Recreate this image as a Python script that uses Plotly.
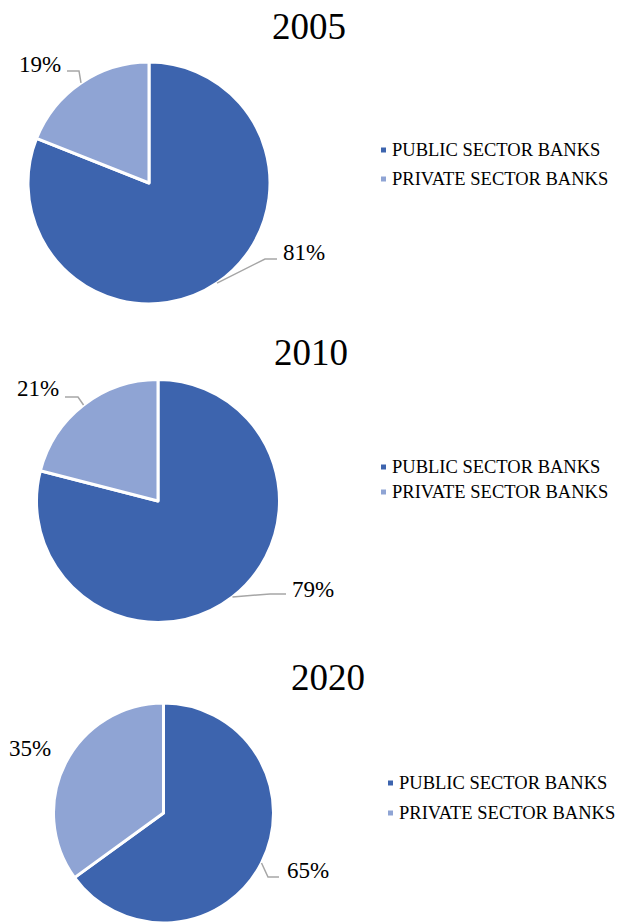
import math
import plotly.graph_objects as go

W, H = 622, 923

# Share of bank branches / business by sector (%)
years = ["2005", "2010", "2020"]
categories = ["PUBLIC SECTOR BANKS", "PRIVATE SECTOR BANKS"]
public_share = [81, 79, 65]
private_share = [19, 21, 35]

colors = ["#3D64AE", "#8FA4D4"]
serif = "Liberation Serif, Times New Roman, serif"

# Layout of each panel in pixels: pie centre / radius, title, legend, value labels
panels = [
    dict(cx=149, cy=183, r=121, title=(309, 27), leg=(381, 150, 179),
         labels=[dict(x=281, y=252, anchor="left", path=[(265, 259), (277, 259)]),
                 dict(x=63, y=64, anchor="right", path=[(79, 71), (67, 71)])]),
    dict(cx=158, cy=501, r=121.5, title=(311, 352), leg=(381, 467, 492),
         labels=[dict(x=290, y=589, anchor="left", path=[(270, 594), (286, 594)]),
                 dict(x=61, y=388, anchor="right", path=[(78, 397), (65, 397)])]),
    dict(cx=163.5, cy=813, r=110, title=(328, 677), leg=(388, 783, 813),
         labels=[dict(x=285, y=870, anchor="left", path=[(268, 877), (279, 877)]),
                 dict(x=53, y=748, anchor="right", path=None)]),
]


def px(x):
    return x / W


def py(y):
    return 1 - y / H


fig = go.Figure()
shapes = []
annotations = []

for i, (year, pub, pri) in enumerate(zip(years, public_share, private_share)):
    p = panels[i]
    cx, cy, r = p["cx"], p["cy"], p["r"]
    values = [pub, pri]
    fig.add_trace(go.Pie(
        labels=categories,
        values=values,
        sort=False,
        direction="clockwise",
        rotation=0,
        textinfo="none",
        hoverinfo="label+percent",
        marker=dict(colors=colors, line=dict(color="white", width=3)),
        domain=dict(x=[px(cx - r), px(cx + r)], y=[py(cy + r), py(cy - r)]),
        showlegend=False,
    ))

    # Title
    tx, ty = p["title"]
    annotations.append(dict(x=px(tx), y=py(ty), xref="paper", yref="paper",
                            text=year, showarrow=False, xanchor="center", yanchor="middle",
                            font=dict(family=serif, size=37, color="black")))

    # Value labels with leader lines starting at each slice's mid-angle
    total = sum(values)
    start = 0.0
    for v, lab in zip(values, p["labels"]):
        frac = v / total
        mid = (start + frac / 2) * 2 * math.pi
        start += frac
        annotations.append(dict(x=px(lab["x"]), y=py(lab["y"]), xref="paper", yref="paper",
                                text=f"{v}%", showarrow=False, xanchor=lab["anchor"],
                                yanchor="middle",
                                font=dict(family=serif, size=23, color="black")))
        if lab["path"]:
            ex = cx + r * math.sin(mid)
            ey = cy - r * math.cos(mid)
            pts = [(ex, ey)] + lab["path"]
            d = "M " + " L ".join(f"{px(a):.5f},{py(b):.5f}" for a, b in pts)
            shapes.append(dict(type="path", path=d, xref="paper", yref="paper",
                               line=dict(color="#A6A6A6", width=1.5)))

    # Legend
    lx, ly1, ly2 = p["leg"]
    for name, col, ly in zip(categories, colors, (ly1, ly2)):
        shapes.append(dict(type="rect", xref="paper", yref="paper",
                           x0=px(lx), x1=px(lx + 5), y0=py(ly + 2.5), y1=py(ly - 2.5),
                           fillcolor=col, line=dict(width=0)))
        annotations.append(dict(x=px(lx + 9), y=py(ly), xref="paper", yref="paper",
                                text=name, showarrow=False, xanchor="left", yanchor="middle",
                                font=dict(family=serif, size=18.5, color="black")))

fig.update_layout(
    width=W, height=H,
    margin=dict(l=0, r=0, t=0, b=0),
    paper_bgcolor="white",
    plot_bgcolor="white",
    shapes=shapes,
    annotations=annotations,
)

fig.write_html("out.html")
